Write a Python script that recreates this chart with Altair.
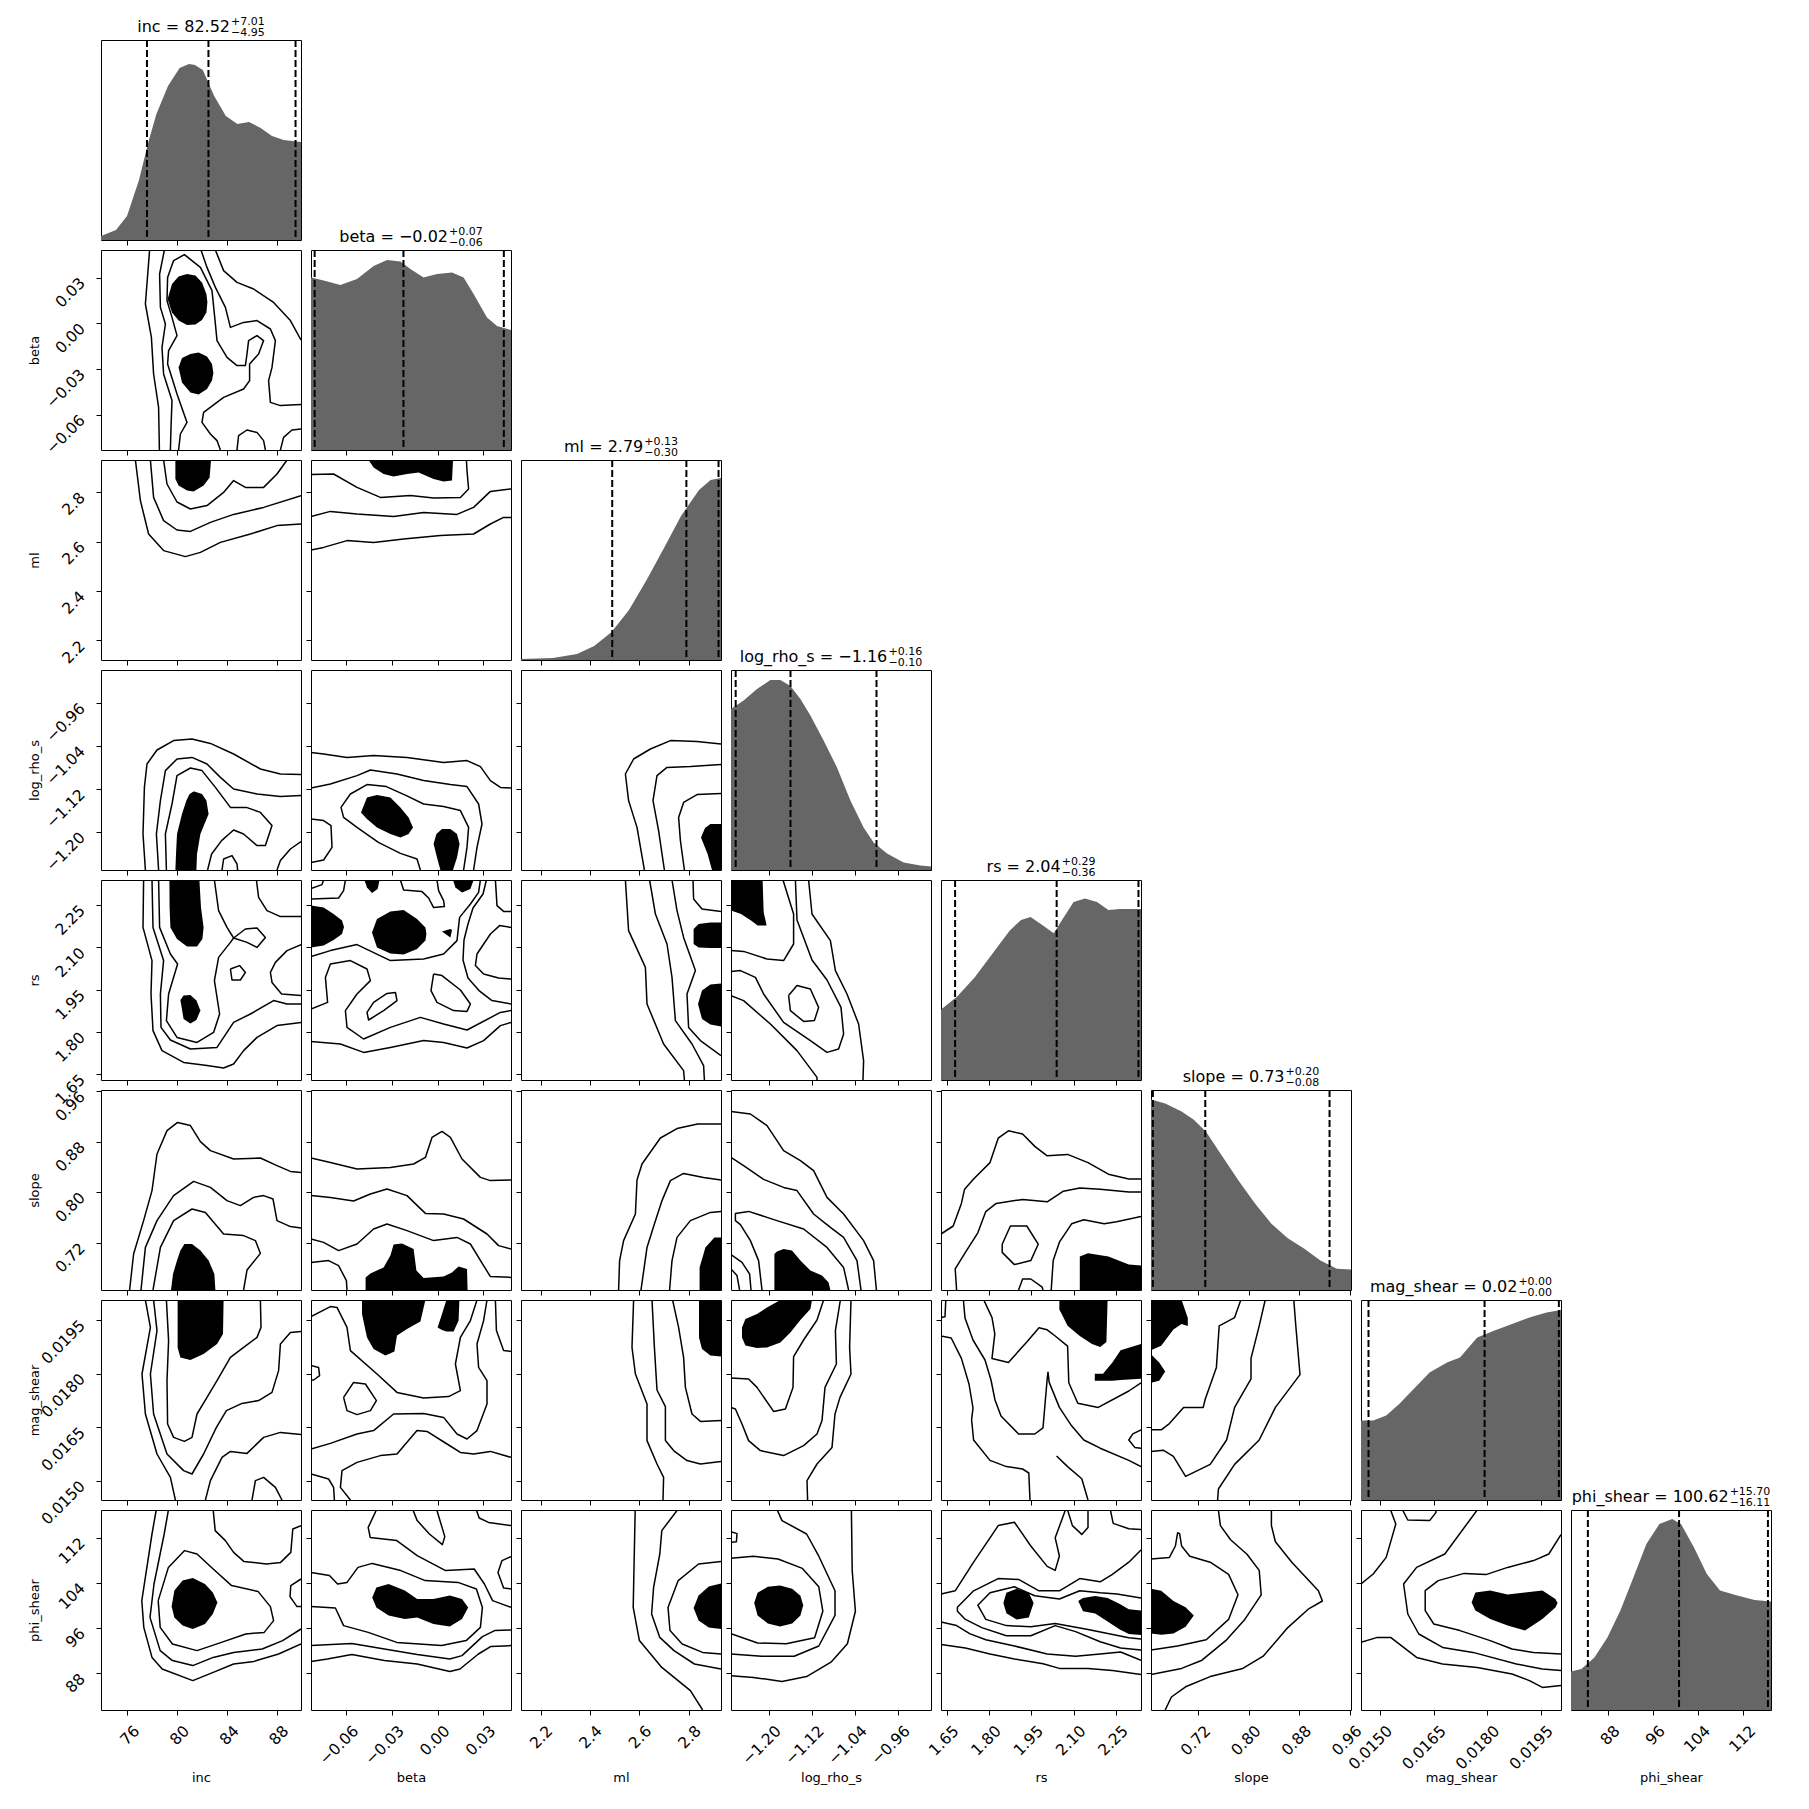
import altair as alt
import pandas as pd

FONT = "DejaVu Sans"

# ---------------- variables, axis ranges, ticks ----------------
VARS = ["inc", "beta", "ml", "log_rho_s", "rs", "slope", "mag_shear", "phi_shear"]
LO = [73.87, -0.0832, 2.121, -1.2707, 1.630, 0.645, 0.01446, 81.53]
HI = [89.97, 0.0481, 2.930, -0.8986, 2.339, 0.962, 0.02006, 116.86]
TICKS = [
    [76, 80, 84, 88],
    [-0.06, -0.03, 0.0, 0.03],
    [2.2, 2.4, 2.6, 2.8],
    [-1.20, -1.12, -1.04, -0.96],
    [1.65, 1.80, 1.95, 2.10, 2.25],
    [0.72, 0.80, 0.88, 0.96],
    [0.0150, 0.0165, 0.0180, 0.0195],
    [88, 96, 104, 112],
]
FMT = ["d", ".2f", ".1f", ".2f", ".2f", ".2f", ".4f", "d"]

# ---------------- titles ----------------
T_MAIN = ["inc = 82.52", "beta = \u22120.02", "ml = 2.79", "log_rho_s = \u22121.16",
          "rs = 2.04", "slope = 0.73", "mag_shear = 0.02", "phi_shear = 100.62"]
T_SUP = ["+7.01", "+0.07", "+0.13", "+0.16", "+0.29", "+0.20", "+0.00", "+15.70"]
T_SUB = ["\u22124.95", "\u22120.06", "\u22120.30", "\u22120.10", "\u22120.36", "\u22120.08", "\u22120.00", "\u221216.11"]

# ---------------- quantiles (16, 50, 84) ----------------
Q_INC = [77.57, 82.52, 89.53]
Q_BETA = [-0.0808, -0.0225, 0.0434]
Q_ML = [2.49, 2.79, 2.92]
Q_LRS = [-1.262, -1.16, -1.00]
Q_RS = [1.68, 2.04, 2.33]
Q_SLOPE = [0.648, 0.731, 0.928]
Q_MAG = [0.01467, 0.01792, 0.0200]
Q_PHI = [84.51, 100.62, 116.32]

# ---------------- histograms: (% of range, % of panel height) ----------------
H_INC = [(0, 2), (7.5, 5), (13, 12), (19, 30), (23.7, 49), (27.7, 63), (33.5, 77), (39.3, 86), (44, 88),
         (47, 87.5), (50.9, 85), (56.6, 72), (62.4, 62), (68.2, 58), (74, 59), (79.8, 56), (85.5, 52),
         (91.3, 50), (100, 49)]
H_BETA = [(0, 86.3), (6.3, 84.7), (14.7, 82.5), (23, 85.5), (31.3, 92), (38, 95), (44.7, 94.3), (49.7, 90.5),
          (56.3, 86.3), (63, 88), (70.5, 88.8), (76.3, 86.3), (81.3, 78), (88, 66.3), (93, 62), (100, 60)]
H_ML = [(0, 0.5), (16, 1), (28, 3), (36.6, 7), (45.3, 14), (54, 25), (62.8, 40), (71.5, 56), (80, 72),
        (89, 85), (94.8, 90), (100, 91)]
H_LRS = [(0, 80.5), (6.3, 84.7), (13, 90.5), (19.7, 95), (24.7, 95), (29.7, 92), (34.7, 85.5), (39.7, 77.2),
         (46.3, 64.7), (53, 51.3), (59.7, 34.7), (66.3, 21.3), (71.3, 13.8), (78, 8.3), (86.3, 3.8),
         (94.7, 2.2), (100, 1.7)]
H_RS = [(0, 35.3), (8, 41.6), (16.9, 51.4), (25.6, 63), (34.3, 74.6), (40, 80), (44.8, 81.5), (50.6, 77.5),
        (56.4, 73.4), (60.5, 80), (66.3, 89), (72, 90.7), (78, 89), (83.7, 85), (89.5, 85.5), (100, 85.5)]
H_SLOPE = [(0, 95.3), (7.1, 93.3), (15.3, 89.2), (21.4, 85.1), (27.6, 79), (35.7, 66.7), (43.9, 54.5),
           (52, 43.3), (60.2, 33.1), (68.4, 25.9), (76.5, 20.8), (84.7, 14.7), (92.9, 10.6), (100, 10.2)]
H_MAG = [(0, 39.7), (6.1, 39.7), (12.6, 42.2), (19.1, 48), (25.6, 54.7), (34.3, 63.8), (43, 68.8),
         (49.5, 71.3), (58.1, 81.3), (66.8, 84.7), (75.5, 88), (84.2, 91.3), (92.8, 93.8), (100, 95)]
H_PHI = [(0, 19.3), (5.2, 20.5), (11.7, 26.3), (18.2, 36.3), (24.7, 49.7), (31.2, 66.3), (37.7, 83),
         (44.2, 93), (50.6, 95.5), (55, 93), (61.5, 81.3), (67.9, 68), (74.5, 59.7), (83.1, 57.2),
         (91.8, 55), (100, 54.3)]

# ---------------- contours: points in % of (x range, y range) ----------------
# lines: [(x, y), ...]; V blobs: [(x, top, bottom), ...]; H blobs: [(y, left, right), ...]
P10_L = [
    [(24.3, 100), (22.2, 73), (25.2, 56.3), (26.3, 38), (28.8, 21.3), (29.2, 0)],
    [(57.2, 100), (61.3, 89.7), (68, 83.8), (76.3, 80.5), (86.3, 73.8), (94.7, 64.7), (100, 55)],
    [(31.7, 100), (29.3, 88), (29.7, 71.3), (32.2, 63), (30.5, 51.3), (31.3, 38), (35.5, 24.7), (35, 11.3), (34.7, 0)],
    [(50, 100), (53, 91.3), (57.2, 81.3), (62.2, 71.3), (64.7, 61.3), (71.3, 63.8), (78, 64.7), (84.7, 60.5),
     (87.2, 54.7), (85.5, 41.3), (83.8, 34.7), (84.7, 23.8), (89.7, 22.2), (100, 22.7)],
    [(38.8, 0), (39.7, 8), (43, 13.8), (38, 28), (33.3, 43), (33.8, 49.7), (38, 57.2), (35.5, 66.3), (33, 74.7),
     (33.3, 86.3), (36.3, 94.7), (41.7, 97.7), (49.7, 91.3), (55.5, 79.7), (57.2, 63), (58, 54.7), (63, 46.3),
     (68, 42.2), (72.2, 42.2), (73, 48), (73.8, 54.7), (78, 57.2), (81.3, 54.7), (78.8, 48), (74.3, 43),
     (74.3, 34.7), (71.3, 30.5), (61.3, 26.3), (51.3, 18.8), (50.5, 13.8), (54.7, 8), (58, 4.7), (59.7, 0)],
    [(68, 0), (68.8, 7.2), (73, 10), (78, 8.8), (81.3, 4.7), (82.2, 0)],
    [(89.7, 0), (91.3, 6.3), (95.5, 10), (100, 10.5)],
]
P10_V = [
    [(33.3, 75.5, 75.5), (35.5, 83, 68.8), (38.8, 86.7, 64.7), (43, 88, 62.5), (47.2, 87.2, 62.7),
     (50.5, 83.8, 65), (52.7, 78, 68.8), (53.2, 74, 74)],
    [(38.8, 41.3, 41.3), (40.5, 46, 33.8), (44.7, 48, 28.8), (48.8, 48.8, 27.7), (53, 46.7, 30.5),
     (55.5, 43, 34.7), (56.2, 38.5, 38.5)],
]
P10_H = []

P20_L = [
    [(17.2, 100), (19.7, 79.7), (23.8, 63), (31.3, 54.7), (42.2, 51.7), (49.7, 53.8), (59.7, 58.8), (74.7, 63),
     (88, 67.2), (100, 68)],
    [(24.7, 100), (26.3, 81.3), (31.3, 69.7), (38, 65), (44.7, 64.3), (54.7, 68.8), (66.3, 72.8), (81.3, 76.3),
     (100, 82.2)],
    [(31.3, 100), (33, 88), (38, 79), (44.7, 75.5), (53, 77.2), (61.3, 83.8), (66.3, 89.7), (72.2, 86.3),
     (81.3, 86.3), (88, 93), (93, 100)],
]
P20_V = [[(37.2, 100, 90.5), (38.8, 100, 87.2), (43, 100, 84.7), (46.3, 100, 84.3), (51.3, 100, 87.2),
          (54.3, 100, 91.3), (55, 100, 99.7)]]
P20_H = []

P21_L = [
    [(0, 55), (6.3, 56.3), (18, 59.7), (31.3, 58.8), (46.3, 60.5), (64.7, 62.2), (81.3, 63), (89.7, 68),
     (96.3, 71.3), (100, 71.3)],
    [(0, 71.7), (9.7, 74.3), (23, 73), (41.3, 71.7), (56.3, 73.8), (73, 72.8), (81.3, 76.3), (89.7, 84.3),
     (100, 85.5)],
    [(0, 92.7), (11.3, 93), (23, 86.3), (34.7, 81.3), (49.7, 82.2), (61.3, 81), (74.7, 81.3), (78.8, 85.5),
     (78, 94.7), (77.7, 100)],
]
P21_V = [[(28.8, 100, 100), (31.3, 100, 96.3), (36.3, 100, 93), (41.3, 100, 91.7), (48, 100, 93),
          (53.8, 100, 93.8), (61.3, 100, 90.5), (66.3, 100, 89.3), (70.5, 100, 89.7), (71, 100, 99.7)]]
P21_H = []

P30_L = [
    [(22.2, 0), (21, 18), (21.7, 41.3), (23, 53), (28, 60), (36.3, 64.7), (45.5, 65.5), (54.7, 63.3), (66.3, 58),
     (79.7, 50.5), (89.7, 48), (100, 47.7)],
    [(28.8, 0), (27.7, 18), (29.7, 34.7), (32.2, 49.7), (38, 55.5), (45.5, 56.3), (53, 53), (59.7, 46.3),
     (66.3, 40.5), (78, 38), (89.7, 36.7), (100, 37.2)],
    [(32.7, 0), (32.2, 18), (35.5, 33), (38, 47.2), (44.7, 51), (50.5, 49.7), (57.2, 41.3), (64.7, 31.3),
     (72.7, 31.3), (79.7, 28.8), (85.5, 22.2), (82.2, 12.2), (78, 12.2), (71.3, 18), (66.3, 20), (60.3, 14.7),
     (55.3, 8), (53.3, 0)],
    [(60.5, 0), (61.3, 5.5), (65.5, 7.2), (68, 3), (68.3, 0)],
    [(88, 0), (89.7, 4.7), (94.7, 10.5), (100, 14.2)],
]
P30_V = []
P30_H = [[(0, 37.2, 47.7), (8, 37.5, 48), (18, 38, 49.7), (28, 40.5, 53.8), (34.7, 42.7, 52.7), (38, 44.3, 50.5),
          (39.3, 46.3, 46.7)]]

P31_L = [
    [(0, 58.8), (6.3, 58), (18, 56.3), (31.3, 57.2), (48, 56.3), (66.3, 53.8), (78, 54.7), (84.7, 51.7),
     (89.7, 44.7), (94.7, 41.3), (100, 41)],
    [(0, 41), (9.7, 43), (23, 47.2), (29.7, 50), (43, 48), (56.3, 44.7), (69.7, 42.7), (78, 41.7), (83.8, 33),
     (85.5, 23), (83, 11.3), (81.3, 0)],
    [(54.7, 0), (53, 5.5), (44.7, 8.3), (33.7, 13.8), (23, 21.3), (16.3, 26.3), (15, 31.3), (19.7, 38), (28, 42.7),
     (37.7, 41.7), (47.7, 37.2), (56.3, 33), (66.3, 31.7), (74.7, 29.7), (78.8, 21.3), (78, 11.3), (76.3, 0)],
    [(0, 25.5), (6.3, 24.7), (10, 22.2), (10.5, 11.3), (6.3, 5), (0, 3.8)],
]
P31_V = [[(25, 28.8, 28.8), (28, 36.3, 25.5), (33, 37.5, 21.3), (39.7, 36.3, 18), (44.7, 31.3, 16.3),
          (48.8, 26.3, 18), (51, 21.3, 21.3)]]
P31_H = [[(0, 64.7, 71), (6.3, 63, 73), (13, 61.3, 74.3), (18, 62.7, 73), (20.5, 65.5, 69.7)]]

P32_L = [
    [(100, 63), (88, 64.3), (74.7, 64.7), (64.7, 60.5), (56.3, 55.5), (52.2, 48), (53.8, 34.7), (58, 21.3),
     (61.7, 0)],
    [(100, 52.7), (84.7, 51.7), (73, 51.3), (68, 47.2), (66, 34.7), (68.8, 19.7), (71.7, 0)],
    [(100, 38.3), (88, 37.7), (81.3, 33.8), (78.8, 26.3), (79.7, 14.7), (81.7, 0)],
]
P32_V = []
P32_H = [[(0, 95.5, 100), (8, 93.3, 100), (16.3, 90, 100), (21, 92, 100), (23, 94.7, 100)]]

P40_L = [
    [(21.3, 100), (21, 76.3), (25.5, 59.7), (25, 43), (26, 24.7), (30.5, 14.7), (41.3, 8.8), (53, 7.2), (61.3, 6),
     (66.3, 8), (71.3, 14.7), (78, 21.3), (88, 27.2), (100, 28.8)],
    [(25.5, 100), (26, 76.3), (31.3, 59.7), (29.7, 43), (30, 26.3), (34.7, 20), (44.7, 15.5), (58, 16.3),
     (66.3, 28.8), (74.7, 33), (86.3, 39.7), (93, 38), (100, 38)],
    [(28.8, 100), (29.3, 76.3), (34.7, 63), (38.3, 58), (33.8, 43), (32.7, 29.7), (38, 21.3), (48, 18.8),
     (56.3, 23.8), (59.3, 33), (56.7, 49.7), (58.8, 61.3), (64.7, 68.8), (66.3, 71), (63, 76.3), (58.8, 84.7),
     (56.7, 100)],
    [(66.3, 71), (72.2, 75.5), (78, 76), (82.2, 71.3), (78, 66.3), (73, 68.8), (66.3, 71)],
    [(64.7, 55.5), (69.3, 57.2), (72.2, 53.8), (69.7, 50), (65.5, 50), (64.7, 55.5)],
    [(77.7, 100), (78.8, 91.3), (83, 84.7), (89.7, 81.7), (100, 81.7)],
    [(100, 67.7), (93, 64.7), (87.2, 58.8), (84.7, 53.8), (85.5, 48.8), (90.3, 43), (100, 42.2)],
]
P40_V = [[(39.7, 40, 40), (41.3, 42.2, 30.5), (44.7, 42.5, 28.3), (47.7, 39.7, 30), (49.7, 34.7, 34.7)]]
P40_H = [[(66.7, 43, 48), (70.5, 38, 50.7), (76.3, 34.7, 51.3), (86.3, 34.3, 50), (100, 34.2, 49.2)]]

P41_L = [
    [(0, 19.2), (14.7, 18), (26.3, 13.8), (39.7, 16.3), (56.3, 19.7), (66.3, 18.8), (78, 16), (86.3, 19.7),
     (94.7, 27.2), (100, 28.8)],
    [(0, 35.5), (8.3, 38.8), (7.2, 51.3), (9.7, 58), (19.7, 59.7), (28, 55.5), (29.7, 49.7), (23, 43), (17.2, 34.7),
     (18, 26.3), (26.3, 20.5), (39.7, 26.3), (54.7, 31.3), (66.3, 28), (78, 25), (94.7, 33.8), (100, 34.7)],
    [(0, 61.7), (9.7, 64.7), (23, 67.7), (39.7, 59.7), (56.3, 60.5), (66.3, 63), (73, 69.7), (74.3, 81.3),
     (79.7, 88), (83.8, 93.8), (84.7, 100)],
    [(63, 100), (63.8, 94.7), (66.3, 89.7), (66.7, 86.7), (61.3, 86.2), (58.8, 91), (55.5, 94.2), (46.3, 95),
     (44.7, 100)],
    [(0, 95.7), (5.5, 97.7), (6.3, 100)],
    [(0, 90.5), (13.8, 91), (16.3, 94.7), (17.2, 100)],
    [(92.2, 100), (93, 87.2), (96.3, 84.3), (100, 84.3)],
    [(100, 76.3), (94.3, 77.2), (89.7, 73), (83, 63), (82.2, 57.2), (86.3, 53), (93.8, 51), (100, 50.5)],
    [(87.7, 100), (86, 93), (81, 86), (78.5, 78), (76.5, 70), (76, 60), (78.5, 51), (84, 44.7), (90.5, 39.7),
     (100, 38)],
    [(61.3, 53), (65.5, 52.2), (74.7, 45), (79.7, 38), (78, 34.3), (71.3, 34.7), (63, 38.8), (60, 44.7), (61.3, 53)],
    [(38, 43.3), (42.2, 43.8), (43, 39.7), (36.3, 34.7), (28.8, 30), (28, 33.8), (31.3, 38.8), (38, 43.3)],
]
P41_V = [
    [(0, 87.2, 66.3), (6.3, 86.3, 67.2), (11.3, 83, 70), (15.5, 79.7, 73), (16.5, 76.5, 76.5)],
    [(30.5, 73.8, 73.8), (33, 80.5, 66.3), (39.7, 84.3, 63.3), (46.3, 85, 62.7), (53, 80.5, 65.5),
     (57.2, 76.3, 69.7), (57.7, 73, 73)],
    [(26.7, 100, 100), (28, 100, 96.3), (30.5, 100, 93.5), (33.3, 100, 95.5), (34.3, 100, 100)],
    [(71, 100, 100), (72.2, 100, 96.3), (75.5, 100, 93.8), (79.7, 100, 95.5), (81.3, 100, 100)],
    [(65.5, 74.3, 74.3), (69.7, 75.5, 71.3), (70.5, 75, 75)],
]
P41_H = []

P42_L = [
    [(52.2, 100), (53.8, 74.7), (62.2, 56.3), (63, 38), (71.3, 18), (81.3, 4.7), (81.7, 0)],
    [(64.3, 100), (67.2, 83), (73, 68), (75.5, 51.3), (77.2, 29.7), (85.5, 18), (91.3, 7.2), (91.7, 0)],
    [(75.5, 100), (78, 84.7), (81.3, 71.3), (87.2, 54.7), (83, 43), (83.8, 26.3), (89.7, 19.7), (100, 12.2)],
    [(86, 100), (86.3, 90.5), (90.5, 85.5), (100, 84.3)],
]
P42_V = [
    [(86.3, 75.5, 68), (88.8, 78, 66.3), (94.7, 78.8, 66), (100, 78.8, 66)],
    [(88.5, 38, 38), (90.5, 44.7, 30.5), (94.7, 47.7, 27.7), (100, 48.3, 26.7)],
]
P42_H = []

P43_L = [
    [(38.8, 100), (40.5, 83), (49.7, 69.7), (52.2, 54.7), (58, 43), (63.8, 28), (66.3, 9.7), (66, 0)],
    [(32.2, 100), (33, 80), (40.5, 60), (48, 50), (55, 36.3), (56.3, 23), (53.8, 15.5), (48, 13.8), (39.7, 19.7),
     (26.3, 28.8), (16.3, 43), (12.2, 51.3), (4.7, 54.7), (0, 54.3)],
    [(26, 100), (31.3, 83), (31.3, 68), (26.3, 59.7), (18, 60.5), (6.3, 64.3), (0, 64.7)],
    [(0, 42.2), (6.3, 39.7), (19.7, 28), (33, 14.7), (43, 1.3), (43, 0)],
    [(28.8, 42.2), (33, 47.2), (39.7, 45.5), (43.8, 36.3), (41.7, 29.7), (36.3, 29.3), (29.7, 34.7), (28.8, 42.2)],
]
P43_V = []
P43_H = [[(77.2, 13.3, 17.8), (79.7, 10, 17.3), (83, 5, 16.5), (84.7, 0, 16.3), (100, 0, 15.8)]]

P50_L = [
    [(14.3, 0), (16.3, 18), (21.3, 34.7), (25.5, 49.7), (28, 68), (33, 79.7), (38.3, 83.8), (44.7, 82.2),
     (49.7, 74.2), (54.7, 69.7), (66.3, 65.5), (79.7, 66), (88, 62.2), (94.7, 59.3), (100, 58.8)],
    [(20, 0), (22.2, 21.3), (28, 34.7), (36.3, 47.2), (46.3, 54.3), (54.7, 51.3), (63, 44.7), (69.7, 42.2),
     (76.3, 46.3), (81.3, 47.2), (86, 45.5), (88, 34.7), (94.7, 31.7), (100, 31)],
    [(26, 0), (29.7, 21.3), (36.3, 34.7), (45.5, 40.5), (52.2, 38.8), (61.3, 28), (71.3, 27.2), (77.2, 24.7),
     (79.7, 18.3), (73, 10), (71.3, 0)],
]
P50_V = []
P50_H = [[(0, 35, 57.2), (8, 36, 56.7), (14.7, 38, 53.8), (19.7, 39.7, 49.7), (23, 41.7, 45.5)]]

P51_L = [
    [(0, 66), (9.7, 63.8), (23, 60.5), (39.7, 61.3), (51.3, 63), (57.2, 66.3), (60.5, 76.3), (65.5, 79.3),
     (69.7, 76.3), (75.5, 65.5), (84.7, 56.3), (89.7, 54.7), (100, 55)],
    [(0, 47.2), (9.7, 46.3), (21.3, 44.5), (29.7, 48), (38, 50.5), (48, 47.2), (57.2, 38.3), (66.3, 38),
     (76.3, 35.5), (88, 28), (93.8, 22.2), (100, 20.5)],
    [(0, 25.5), (6.3, 23.8), (13.8, 19.7), (23, 23), (31.3, 30.5), (38, 33), (48, 29.7), (61.3, 24.7), (73, 26.3),
     (79.7, 23), (86.3, 12.2), (89.7, 6.7), (100, 6.3)],
    [(0, 13.8), (8.8, 14.7), (13.8, 12.2), (17.7, 4.7), (18, 0)],
]
P51_V = [[(27.3, 6.3, 0), (29.7, 8.3, 0), (36.3, 11.3, 0), (39.7, 17.2, 0), (41.3, 22.7, 0), (45.5, 23.3, 0),
          (51.3, 20.5, 0), (52.7, 9.7, 0), (56.3, 6, 0), (66.3, 6.7, 0), (70.5, 8.8, 0), (73.8, 11.7, 0),
          (78, 10.5, 0), (78.3, 0, 0)]]
P51_H = []

P52_L = [
    [(100, 83), (88.3, 83), (78, 80.7), (69.7, 76), (60.5, 63), (58, 55), (57.2, 38), (51.3, 24.7), (49.3, 14.7),
     (48.8, 0)],
    [(100, 55), (91.3, 56.3), (81.3, 58.3), (74.7, 54.7), (70.5, 44.7), (66.7, 33), (63, 21.3), (60, 0)],
    [(100, 39.3), (94.7, 38.8), (84.7, 34.7), (78, 26.3), (75.5, 14.7), (74.3, 0)],
]
P52_V = []
P52_H = [[(0, 89.3, 100), (11.3, 89.3, 100), (21.3, 92.2, 100), (26.3, 96.7, 100)]]

P53_L = [
    [(0, 89.3), (9.7, 88), (18, 82.2), (26.3, 69.7), (34.7, 64.7), (41.3, 59.7), (48, 46.3), (56.3, 38),
     (66.3, 24.7), (71.3, 14.7), (72.7, 0)],
    [(0, 66.3), (6.3, 62.2), (16.3, 55.3), (26.3, 51.3), (33, 49.7), (41.3, 38), (49.7, 31.3), (56.3, 26.3),
     (63, 14.7), (65, 0)],
    [(15.5, 0), (13.8, 14.7), (9.7, 24.7), (4.7, 32.7), (2.2, 34.7), (2.2, 38.3), (8.8, 39.3), (23, 34.7),
     (36.3, 30.5), (48, 21.3), (56.3, 11.3), (58.8, 0)],
    [(0, 17.7), (5.5, 13.8), (9.3, 8), (10, 0)],
    [(0, 10.5), (3, 7.2), (4.3, 0)],
]
P53_V = [[(21.7, 18, 0), (23, 19.3, 0), (26.3, 20.5, 0), (30.5, 19.7, 0), (34.7, 14.7, 0), (39.7, 9.7, 0),
          (45.5, 7.2, 0), (48.8, 3.8, 0), (49.7, 0, 0)]]
P53_H = []

P54_L = [
    [(0, 28), (6.1, 32), (10.2, 43.3), (11.8, 50.4), (16.3, 55.5), (24.5, 63.7), (28.6, 75.9), (33.7, 79.6),
     (40.8, 78), (46.9, 71.8), (53.1, 67.1), (63.3, 67.8), (73.5, 63.7), (83.7, 57.9), (93.9, 55.5), (100, 55.5)],
    [(7.8, 0), (7.1, 10.6), (12.2, 18.8), (18.4, 28.6), (22.4, 39.2), (27.6, 43.3), (40.8, 45.3), (53.1, 44.1),
     (61.2, 49.4), (69.4, 51), (79.6, 50.4), (93.9, 49), (100, 49)],
    [(55.1, 0), (56.1, 14.7), (59.2, 23.9), (65.3, 33.1), (71.4, 35.1), (81.6, 33.1), (87.8, 34.1), (100, 36.7)],
    [(30.6, 22.9), (34.7, 32), (42.9, 32), (48.6, 22.9), (44.9, 14.7), (36.7, 12.7), (30.6, 18.8), (30.6, 22.9)],
    [(38.8, 0), (40.8, 5.5), (44.9, 5.5), (50.6, 1.4), (51, 0)],
]
P54_V = [[(69.4, 16.7, 0), (73.5, 18.4, 0), (83.7, 16.7, 0), (93.9, 12.7, 0), (100, 12.2, 0)]]
P54_H = []

P60_L = [
    [(22.2, 100), (24.7, 86.3), (20.5, 63), (22.2, 43), (28, 23), (34.7, 11.3), (37.2, 0)],
    [(26.3, 100), (28, 84.7), (24.7, 63), (26.3, 43), (33, 23), (41.3, 14.7), (45.5, 13), (51.3, 23), (57.7, 36.3),
     (62.7, 44.7), (70.5, 48.3), (78.8, 49.7), (85.5, 53.8), (88.8, 64.7), (89.7, 78), (94.7, 83.8), (100, 84.3)],
    [(32.7, 100), (33.8, 79.7), (33, 59.7), (33.3, 38), (36.3, 31.3), (41.7, 29.3), (45.5, 31.3), (48, 43),
     (53, 51.3), (58, 59.7), (64.7, 71.3), (71.3, 76.3), (78, 81.3), (80, 86.3), (79.7, 100)],
    [(52.2, 0), (54.7, 9.7), (60.5, 21.3), (64.7, 24.3), (73, 23.3), (81.3, 31.3), (89.7, 33.8), (100, 32.7)],
    [(75.5, 0), (77.2, 9.7), (81.3, 11.3), (87.2, 6.3), (90.5, 0)],
]
P60_V = [[(38.3, 100, 76.3), (39.7, 100, 71.3), (44.7, 100, 70), (51.3, 100, 73), (58, 100, 78), (61, 100, 83),
          (61.3, 100, 100)]]
P60_H = []

P61_L = [
    [(0, 25.5), (9.7, 28.3), (23, 33), (31.3, 34.7), (41.3, 43), (56.3, 43.3), (66.3, 41.3), (73, 33), (78, 30.5),
     (83, 34.7), (88, 48), (88, 59.7), (83.8, 66.3), (83, 78), (86.3, 89.7), (88, 100)],
    [(0, 91.7), (9.7, 96.7), (13, 96.3), (18, 86.3), (19.7, 74.7), (33, 63), (43, 53.8), (56.3, 51), (68.8, 51.7),
     (74.7, 54.7), (72.2, 68), (74.7, 81.3), (79.7, 89.7), (83, 100)],
    [(0, 13), (8.8, 10.5), (11.3, 6.3), (11.7, 0)],
    [(19.7, 0), (14.7, 6.3), (15.5, 14.7), (23, 18.8), (34.7, 22.2), (43, 23), (53, 34.7), (58, 34.3), (68, 28),
     (74.7, 23.8), (81.3, 23), (89.7, 24.3), (100, 21.3)],
    [(92.2, 100), (92.7, 84.7), (96.3, 74.7), (100, 74.3)],
    [(0, 67.2), (3.8, 66.3), (4.3, 62.2), (1.3, 60), (0, 60)],
    [(16.3, 51.3), (21.3, 58.8), (27.2, 58), (32.7, 49.7), (29.7, 44.7), (23, 42.7), (18, 44.7), (16.3, 51.3)],
]
P61_V = [
    [(25.5, 100, 93), (28, 100, 81.3), (31.3, 100, 75.5), (37.2, 100, 72.2), (41.7, 100, 74.3), (43, 100, 82.2),
     (48, 100, 85.5), (54.7, 100, 89.3), (57.2, 100, 100)],
    [(63.3, 86.3, 86.3), (65.5, 93, 85), (67.7, 100, 84.3), (71.3, 100, 84.3), (73.8, 100, 89.7), (74.2, 100, 100)],
]
P61_H = []

P62_L = [
    [(56.3, 100), (55.5, 76.3), (57.2, 63), (63, 48), (63, 29.7), (68, 18), (71.3, 11.3), (71, 0)],
    [(65.5, 100), (66.7, 76.3), (68, 55), (72.2, 46.7), (72.2, 29.7), (76.3, 24.7), (83, 19.7), (89.7, 18),
     (100, 19.3)],
    [(75.8, 100), (78.8, 86.3), (81.3, 71.3), (82.2, 56.3), (85.5, 43), (89.7, 39.3), (100, 39.7)],
]
P62_V = [[(89, 100, 81.3), (90.5, 100, 75.5), (94.7, 100, 72.2), (100, 100, 71.7)]]
P62_H = []

P63_L = [
    [(60, 100), (59.3, 76.3), (60, 63), (54.5, 51.3), (52, 43), (50.5, 26.3), (43, 18), (38, 9.7), (38.3, 0)],
    [(54.7, 100), (52.2, 84.7), (52.7, 68), (47, 56.3), (45.5, 39.7), (43, 33), (36.3, 27.2), (26.3, 22.2),
     (14.7, 24.7), (8.8, 29.7), (5.5, 38), (2.2, 45.5), (0, 46.3)],
    [(46.3, 100), (43, 90), (36.3, 80), (31.3, 71.7), (31, 56.3), (27.2, 45.5), (21.3, 44.3), (13, 56.3),
     (8.8, 60.5), (0, 61)],
]
P63_V = [[(5.5, 86.3, 81.3), (7.2, 90.5, 77.2), (13, 93, 76), (18, 96.3, 76.3), (24.7, 100, 78.8),
          (29.7, 100, 83.8), (34.7, 100, 90), (39.7, 100, 95.5), (40.5, 100, 100)]]
P63_H = []

P64_L = [
    [(0, 91.2), (2, 91.6), (2.4, 100)],
    [(0, 82), (5.1, 81), (10.2, 70.8), (14, 58), (16, 46), (15.3, 40.2), (16.3, 30), (24.5, 19.8), (32.7, 16.7),
     (40.8, 15.5), (43.9, 13.5), (44.5, 0)],
    [(11.2, 100), (12, 91), (16, 80), (22, 70), (25, 60), (27, 50), (30, 42), (38.8, 33), (46.9, 33), (51, 36.1),
     (53.1, 60.6), (53.5, 63.9), (54.1, 58.8), (59.2, 46.3), (65.3, 37.1), (71.4, 30), (79.6, 25.9), (93.9, 19.8),
     (100, 16.7)],
    [(21.4, 100), (25.5, 91.2), (26.9, 83.1), (25.5, 70.8), (33.7, 68.8), (42.9, 79), (49, 86.1), (53.1, 85.1),
     (57.1, 82), (63.3, 76.9), (63.9, 58.6), (68.4, 48.4), (78.6, 46.3), (93.9, 54.5), (100, 58.6)],
    [(100, 35.1), (95.9, 33.1), (93.9, 30), (96.9, 26.3), (100, 25.9)],
    [(73.5, 0), (70.4, 10.6), (63.3, 16.7), (57.8, 22)],
]
P64_V = [
    [(59.2, 100, 95.3), (63.3, 100, 87.1), (69.4, 100, 82), (75.5, 100, 78), (79.6, 100, 76.5), (82.7, 100, 79),
     (83.3, 100, 100)],
    [(76.9, 63.1, 59.6), (81, 63.1, 59.6), (85.7, 68.8, 59.6), (89.8, 74.9, 60), (100, 78, 60.6)],
]
P64_H = []

P65_L = [
    [(71.4, 100), (72.4, 87.1), (74.5, 62.7), (62.2, 46.3), (54.1, 30), (41.8, 17.8), (33.7, 5.5), (33.3, 0)],
    [(57.1, 100), (54.1, 87.1), (50, 70.8), (50, 60.6), (41.8, 46.3), (37.8, 30), (29.6, 17.8), (17.3, 11.8),
     (11.2, 21.8), (6.1, 24.9), (0, 24.3)],
    [(44.9, 100), (41.8, 91.2), (34.1, 87.1), (32.7, 66.3), (27.1, 50.4), (26.1, 46.3), (16.3, 46.3), (9.2, 38.2),
     (5.1, 35.1), (0, 35.1)],
]
P65_V = [
    [(0, 100, 74.9), (5.1, 100, 77.1), (11.2, 100, 85.3), (15.3, 100, 88), (18.4, 91, 87)],
    [(0, 72.9, 58.6), (4.1, 68.8, 59.6), (7.1, 64.3, 64.3)],
]
P65_H = []

P70_L = [
    [(27.6, 100), (25.5, 88), (20.4, 54.7), (21.4, 41.3), (25.5, 26.3), (30.6, 20.5), (45.9, 14.7), (56.1, 18.8),
     (66.3, 23), (76.5, 24.3), (88.8, 28), (100, 33)],
    [(33.7, 100), (31.6, 88), (26.5, 63), (24.5, 46.3), (29.6, 29.7), (35.7, 24.7), (45.9, 22.2), (56.1, 26.3),
     (66.3, 28.8), (80.6, 30.5), (90.8, 34.7), (100, 40.5)],
    [(28.6, 54.7), (33.7, 71.3), (41.8, 79.7), (48, 78), (56.1, 70.5), (65.3, 62.2), (78.6, 59.2), (84.7, 51.7),
     (86.3, 44.7), (81.6, 38.8), (72.4, 38), (60.2, 33.8), (48, 29.7), (35.7, 33), (29.6, 41.3), (28.6, 54.7)],
    [(56.1, 100), (57.1, 89.7), (62.2, 84.7), (66.3, 78.8), (71.4, 74.3), (82.7, 73), (89.8, 73.8), (94.9, 78.8),
     (95.9, 90.5), (100, 92.2)],
    [(100, 65.5), (94.9, 62.2), (94.5, 56.7), (98, 51.7), (100, 51.7)],
]
P70_V = [[(35.3, 51.7, 51.7), (36.7, 59.7, 46.3), (40.8, 64.7, 42.2), (45.9, 66, 40.5), (52, 63, 43),
          (55.9, 58.8, 48), (58.2, 53.8, 53.8)]]
P70_H = []

P71_L = [
    [(0, 24.3), (8.2, 25.5), (20.4, 27.7), (36.7, 24.7), (53.1, 23), (69.4, 19.3), (74.5, 20.5), (83.7, 28),
     (89.8, 31.7), (100, 32.2)],
    [(0, 32.2), (20.4, 33.3), (36.7, 30.5), (53.1, 27.7), (69.4, 25.5), (75.5, 27.2), (85.7, 36.7), (91.8, 39.7),
     (100, 40)],
    [(0, 68.8), (9.2, 67.2), (13.3, 63), (18, 63.8), (23.5, 71.3), (30.6, 73.3), (44.9, 69.7), (57.1, 64.7),
     (73.5, 63.8), (82.7, 60.5), (85.7, 51.3), (84.7, 41.3), (77.6, 34.7), (65.3, 32.2), (42.9, 33.8), (28.6, 38.8),
     (16.3, 42.2), (12.2, 51), (0, 51.7)],
    [(32.7, 100), (28.6, 91.3), (29.6, 86.3), (42.9, 84.7), (53.1, 77.2), (67.3, 69.7), (81.6, 70.5), (86.7, 63),
     (90.8, 54.7), (100, 51.3)],
    [(51, 100), (53.1, 94.7), (59.2, 88), (65.7, 82.7), (66.9, 86.7), (62.9, 100)],
    [(82.7, 100), (84.1, 96), (88.8, 93.8), (100, 92.2)],
    [(100, 76.7), (95.5, 74.7), (93.5, 68.8), (96.3, 61), (100, 60.5)],
]
P71_V = [[(30.6, 56.3, 56.3), (32.7, 61.3, 51.3), (38.8, 63, 47.2), (46.9, 59.7, 45.5), (53.1, 55.5, 46.3),
          (61.2, 55.5, 43), (69.4, 57.2, 41.7), (75.5, 55.5, 45.5), (78.6, 51.3, 51.3)]]
P71_H = []

P72_L = [
    [(57.1, 100), (56.5, 71.3), (56.1, 51.3), (59.2, 34.7), (70.4, 21.3), (84.7, 9.7), (90.8, 0)],
    [(78.2, 100), (70.4, 89.7), (69.4, 78), (66.3, 61.3), (65.3, 48), (69.4, 36.3), (76.5, 29.7), (86.7, 23),
     (100, 20.5)],
    [(100, 74.3), (88.8, 73), (78.6, 64.7), (73.5, 51.3), (74.5, 39.7), (80.6, 33), (90.8, 28.8), (100, 28)],
]
P72_V = [[(86.3, 51, 51), (88.8, 57.2, 44.7), (93.9, 61.7, 41.3), (100, 63.3, 40.5)]]
P72_H = []

P73_L = [
    [(0, 17.1), (11.2, 16.3), (25.5, 14.3), (37.8, 16.7), (50, 23.9), (58.2, 33.1), (62.2, 49.4), (60.6, 69.8),
     (60.2, 100)],
    [(0, 28), (15.3, 26.9), (31.6, 26.9), (43.9, 32), (52, 47.3), (52, 59.6), (43.9, 76.9), (37.8, 88), (25.5, 94.7),
     (23.1, 100)],
    [(0, 38.2), (13.3, 33.5), (27.6, 33.1), (41.8, 36.1), (45.9, 49.4), (43.9, 61.6), (35.7, 70.8), (23.5, 75.5),
     (11.2, 76.9), (0, 75.9)],
    [(0, 89.2), (3, 88.2), (2.7, 84.1), (0, 83.9)],
]
P73_V = [[(11.6, 53.5, 53.5), (13.3, 58.6, 47.3), (18.4, 61.6, 43.3), (24.5, 62.2, 41.8), (30.6, 60.6, 43.3),
          (34.7, 57.1, 47.3), (36.1, 52.4, 52.4)]]
P73_H = []

P74_L = [
    [(0, 32.7), (12.2, 31), (24.5, 28), (36.7, 25.5), (51, 23.1), (59.2, 20.8), (73.5, 20.8), (85.7, 19.8),
     (100, 17.8)],
    [(0, 44), (7.8, 42.2), (14.3, 38.2), (22.4, 35.1), (36.7, 32), (53.1, 28), (67.3, 26.9), (79.6, 28), (89.8, 29),
     (100, 24.9)],
    [(0, 58), (7.1, 59.6), (16.3, 73.9), (24.5, 86.1), (28.6, 92.2), (36.7, 93.9), (44.9, 82), (53.1, 71.8),
     (57.1, 69.8), (59.2, 77), (57.1, 86.1), (62.2, 100)],
    [(100, 80), (93.9, 73.9), (85.7, 67.8), (79.6, 64.1), (69.4, 65.7), (59.2, 59.6), (49, 59.6), (38.8, 65.3),
     (28.6, 65.7), (16.3, 59.6), (8.2, 51.4), (8.2, 49.4), (12.2, 45.3), (20.4, 41.2), (32.7, 37.1), (44.9, 37.1),
     (57.1, 42.2), (67.3, 39.2), (79.6, 34.1), (89.8, 31), (100, 30)],
    [(100, 35.5), (93.9, 36.1), (73.5, 40.2), (57.1, 43.3), (44.9, 41.6), (32.7, 42.2), (22.4, 45.3), (18.4, 52.4),
     (24.5, 58.6), (36.7, 61.6), (46.9, 57.1), (59.2, 55.5), (69.4, 59.6), (79.6, 58.6), (88, 58), (100, 56)],
    [(63.3, 100), (65.7, 92.2), (70.4, 87.8), (73.5, 91.2), (73.5, 100)],
    [(84.7, 100), (86.1, 93.3), (93.9, 90.6), (100, 90.2)],
]
P74_V = [
    [(31.2, 53.5, 53.5), (32.7, 58.6, 48.4), (37.8, 60.6, 45.3), (43.9, 58.6, 46.3), (46.3, 53.5, 53.5)],
    [(68.6, 54.5, 54.5), (71, 56, 49.4), (77.1, 57, 48.2), (83.3, 56, 44.3), (89.4, 53, 40.2), (93.9, 50.4, 38),
     (100, 49.8, 37.5)],
]
P74_H = []

P75_L = [
    [(7.1, 0), (10.2, 6.5), (17.3, 11.6), (29.6, 16.7), (45.9, 20.8), (56.1, 26.9), (68.4, 41.2), (78.6, 50.4),
     (85.7, 54.5), (83.7, 59.6), (70.4, 73.9), (62.2, 84.1), (60.2, 92.2), (60.2, 100)],
    [(0, 17.8), (15.3, 20.8), (25.5, 24.9), (37.8, 35.1), (46.9, 45.3), (55.1, 57.6), (54.1, 69.8), (48, 77.9),
     (39.8, 85.1), (34.7, 92.2), (33.7, 100)],
    [(0, 30), (13.3, 32), (27.6, 35.1), (38.8, 45.3), (43.5, 57.6), (38.8, 67.8), (29.6, 73.9), (19.4, 76.9),
     (15.3, 82), (14.3, 88.2), (13.3, 88.6), (12.2, 82), (9.2, 76.3), (0, 75.5)],
]
P75_V = [[(0, 60.6, 38.2), (5.1, 59.6, 37.6), (11.2, 54.5, 38.2), (17.3, 51.4, 41.6), (21.4, 47.3, 47.3)]]
P75_H = []

P76_L = [
    [(58.1, 100), (41.9, 78), (27.8, 71.3), (21.3, 63), (23.4, 48), (28.9, 38), (40.8, 31.3), (56, 28.8),
     (77.7, 23), (90.7, 20.5), (100, 19.7)],
    [(100, 87.7), (93.9, 78), (86.3, 74.7), (73.3, 71.3), (62.5, 67.7), (51.6, 68.3), (38.6, 64.7), (32.1, 59.7),
     (32.1, 49.7), (36.4, 43), (49.5, 39.7), (64.6, 34.7), (75.5, 30.5), (86.3, 28.8), (100, 28)],
    [(0, 33.8), (8.2, 36.3), (14.8, 36.3), (27.8, 26.3), (40.8, 23), (58.1, 21.3), (75.5, 18), (84.2, 14.7),
     (90.7, 11.3), (100, 12.2)],
    [(14.8, 100), (17.4, 93), (12.6, 76.3), (6.1, 68), (0, 63)],
    [(20.8, 100), (23.4, 95), (34.3, 94.7), (37.5, 98.8), (37.5, 100)],
]
P76_V = [[(55.3, 53.8, 53.8), (57.2, 58.8, 49.7), (64.6, 59.7, 45.5), (73.3, 57.7, 42.2), (82, 58.8, 39.7),
          (90.7, 59.7, 45.5), (97.2, 55.5, 51.3), (98.3, 53.5, 53.5)]]
P76_H = []

HISTS = [H_INC, H_BETA, H_ML, H_LRS, H_RS, H_SLOPE, H_MAG, H_PHI]
QUANTS = [Q_INC, Q_BETA, Q_ML, Q_LRS, Q_RS, Q_SLOPE, Q_MAG, Q_PHI]
PANELS = {
    (1, 0): (P10_L, P10_V, P10_H),
    (2, 0): (P20_L, P20_V, P20_H), (2, 1): (P21_L, P21_V, P21_H),
    (3, 0): (P30_L, P30_V, P30_H), (3, 1): (P31_L, P31_V, P31_H), (3, 2): (P32_L, P32_V, P32_H),
    (4, 0): (P40_L, P40_V, P40_H), (4, 1): (P41_L, P41_V, P41_H), (4, 2): (P42_L, P42_V, P42_H),
    (4, 3): (P43_L, P43_V, P43_H),
    (5, 0): (P50_L, P50_V, P50_H), (5, 1): (P51_L, P51_V, P51_H), (5, 2): (P52_L, P52_V, P52_H),
    (5, 3): (P53_L, P53_V, P53_H), (5, 4): (P54_L, P54_V, P54_H),
    (6, 0): (P60_L, P60_V, P60_H), (6, 1): (P61_L, P61_V, P61_H), (6, 2): (P62_L, P62_V, P62_H),
    (6, 3): (P63_L, P63_V, P63_H), (6, 4): (P64_L, P64_V, P64_H), (6, 5): (P65_L, P65_V, P65_H),
    (7, 0): (P70_L, P70_V, P70_H), (7, 1): (P71_L, P71_V, P71_H), (7, 2): (P72_L, P72_V, P72_H),
    (7, 3): (P73_L, P73_V, P73_H), (7, 4): (P74_L, P74_V, P74_H), (7, 5): (P75_L, P75_V, P75_H),
    (7, 6): (P76_L, P76_V, P76_H),
}

# ---------------- helpers ----------------
W, H = 200, 200
CW = {' ': 0.318, '+': 0.838, '\u2212': 0.838, '=': 0.838, '.': 0.318, '_': 0.5,
      'a': 0.613, 'b': 0.635, 'c': 0.55, 'e': 0.615, 'g': 0.635, 'h': 0.634, 'i': 0.278, 'l': 0.278,
      'm': 0.974, 'n': 0.634, 'o': 0.612, 'p': 0.635, 'r': 0.411, 's': 0.521, 't': 0.392}


def text_w(s, size):
    return sum(CW.get(ch, 0.636) for ch in s) * size


def tx(k, p):
    return LO[k] + (HI[k] - LO[k]) * p / 100.0


def scale(k):
    return alt.Scale(domain=[LO[k], HI[k]], nice=False, zero=False)


def x_axis(k, show):
    if show:
        return alt.Axis(values=TICKS[k], format=FMT[k], labels=True, title=VARS[k])
    return alt.Axis(values=TICKS[k], labels=False, title="")


def y_axis(k, show):
    if show:
        return alt.Axis(values=TICKS[k], format=FMT[k], labels=True, title=VARS[k])
    return alt.Axis(values=TICKS[k], labels=False, title="")


def offdiag(r, c):
    lines, vbl, hbl = PANELS[(r, c)]
    xs, ys = scale(c), scale(r)
    xa, ya = x_axis(c, r == 7), y_axis(r, c == 0)
    rows = []
    for g, ln in enumerate(lines):
        for i, (px, py) in enumerate(ln):
            rows.append({"g": g, "i": i, "x": tx(c, px), "y": tx(r, py)})
    layers = [alt.Chart(pd.DataFrame(rows)).mark_line(
        color="black", strokeWidth=1.5, clip=True, strokeJoin="round").encode(
        x=alt.X("x:Q", scale=xs, axis=xa), y=alt.Y("y:Q", scale=ys, axis=ya),
        detail="g:N", order=alt.Order("i:Q"))]
    if vbl:
        vr = []
        for g, b in enumerate(vbl):
            for (px, top, bot) in b:
                vr.append({"g": g, "x": tx(c, px), "yt": tx(r, top), "yb": tx(r, bot)})
        layers.append(alt.Chart(pd.DataFrame(vr)).mark_area(
            color="black", opacity=1, clip=True, orient="vertical").encode(
            x=alt.X("x:Q", scale=xs, axis=xa), y=alt.Y("yt:Q", scale=ys, axis=ya), y2="yb:Q", detail="g:N"))
    if hbl:
        hr = []
        for g, b in enumerate(hbl):
            for (py, lft, rgt) in sorted(b):
                hr.append({"g": g, "y": tx(r, py), "xl": tx(c, lft), "xr": tx(c, rgt)})
        layers.append(alt.Chart(pd.DataFrame(hr)).mark_area(
            color="black", opacity=1, clip=True, orient="horizontal").encode(
            y=alt.Y("y:Q", scale=ys, axis=ya), x=alt.X("xl:Q", scale=xs, axis=xa), x2="xr:Q", detail="g:N"))
    return alt.layer(*layers).properties(width=W, height=H)


def diag(k):
    xs = scale(k)
    xa = x_axis(k, k == 7)
    hist = pd.DataFrame({"x": [tx(k, p) for p, _ in HISTS[k]], "h": [h for _, h in HISTS[k]]})
    area = alt.Chart(hist).mark_area(color="#666666", opacity=1, clip=True).encode(
        x=alt.X("x:Q", scale=xs, axis=xa),
        y=alt.Y("h:Q", scale=alt.Scale(domain=[0, 100], nice=False), axis=None))
    rules = alt.Chart(pd.DataFrame({"q": QUANTS[k]})).mark_rule(
        color="black", strokeWidth=2, strokeDash=[7, 3]).encode(x=alt.X("q:Q", scale=xs, axis=xa))
    w1 = text_w(T_MAIN[k], 16)
    w2 = max(text_w(T_SUP[k], 11), text_w(T_SUB[k], 11))
    x0 = W / 2 - (w1 + w2 + 1) / 2
    tdf = pd.DataFrame({"m": [T_MAIN[k]], "u": [T_SUP[k]], "d": [T_SUB[k]]})
    t_main = alt.Chart(tdf).mark_text(align="left", baseline="alphabetic", font=FONT, fontSize=16,
                                      color="black").encode(x=alt.value(x0), y=alt.value(-8), text="m:N")
    t_sup = alt.Chart(tdf).mark_text(align="left", baseline="alphabetic", font=FONT, fontSize=11,
                                     color="black").encode(x=alt.value(x0 + w1 + 1), y=alt.value(-15.3), text="u:N")
    t_sub = alt.Chart(tdf).mark_text(align="left", baseline="alphabetic", font=FONT, fontSize=11,
                                     color="black").encode(x=alt.value(x0 + w1 + 1), y=alt.value(-4.5), text="d:N")
    return alt.layer(area, rules, t_main, t_sup, t_sub).properties(width=W, height=H)


def empty():
    return alt.Chart(pd.DataFrame({"a": [0]})).mark_point(opacity=0).encode(
        x=alt.value(0), y=alt.value(0)).properties(width=W, height=H, view=alt.ViewBackground(strokeOpacity=0))


cells = []
for r in range(8):
    for c in range(8):
        if c < r:
            cells.append(offdiag(r, c))
        elif c == r:
            cells.append(diag(r))
        else:
            cells.append(empty())

chart = alt.concat(*cells, columns=8, spacing=10, bounds="flush").properties(
    padding={"left": 27, "top": 15, "right": 5, "bottom": 5}
).configure_view(stroke="black", strokeWidth=1).configure_axis(
    domain=False, grid=False, ticks=True, tickColor="black", tickSize=5, tickWidth=1,
    labelFont=FONT, labelFontSize=15.5, labelColor="black", labelOverlap=False, labelFlush=False,
    titleFont=FONT, titleFontSize=13, titleFontWeight="normal", titleColor="black"
).configure_axisX(
    labelAngle=315, labelAlign="right", labelBaseline="middle", labelPadding=13, labelOffset=9,
    titleX=100, titleY=71.5, titleAlign="center", titleBaseline="alphabetic"
).configure_axisY(
    labelAngle=315, labelAlign="right", labelBaseline="middle", labelPadding=14, labelOffset=2.5,
    titleX=-62.7, titleY=100, titleAngle=270, titleAlign="center", titleBaseline="alphabetic"
)

chart.save("out.html", embed_options={"renderer": "svg", "actions": False})
